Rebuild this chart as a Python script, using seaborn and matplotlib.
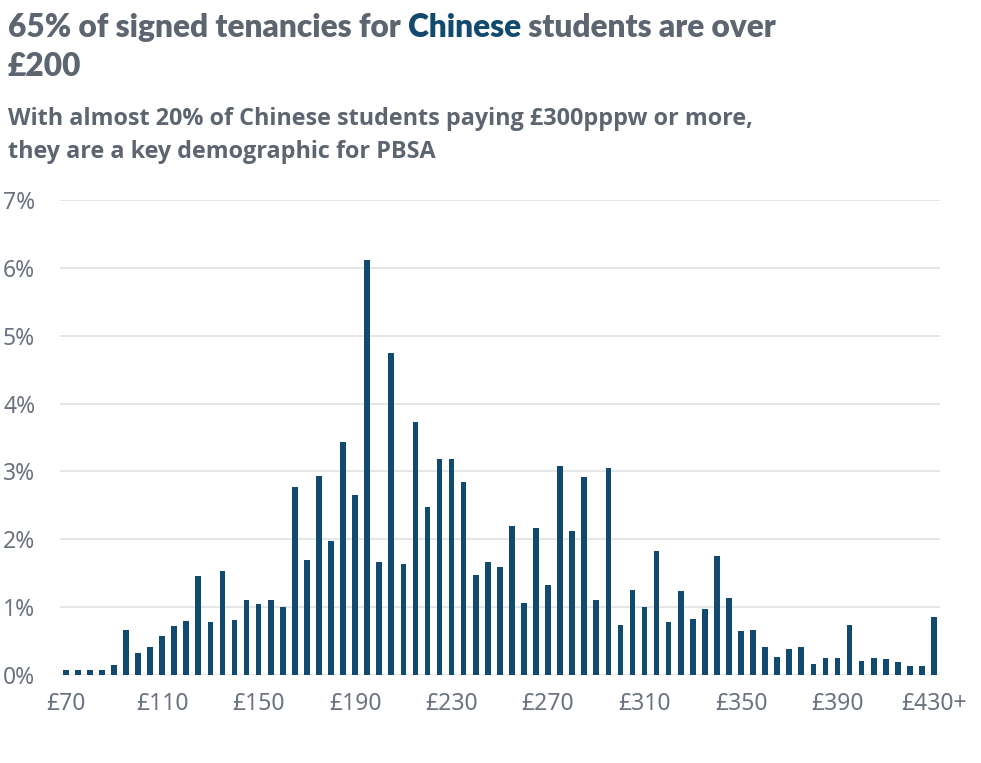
import matplotlib
matplotlib.use("Agg")
import matplotlib.pyplot as plt
import pandas as pd
import seaborn as sns

# weekly rent bands, £70 .. £430+ in £5 steps
bands = [f"£{v}" for v in range(70, 430, 5)] + ["£430+"]
share_pct = [
    0.08, 0.08, 0.08, 0.07, 0.15, 0.66, 0.33, 0.41, 0.57, 0.72,
    0.79, 1.46, 0.78, 1.53, 0.81, 1.11, 1.04, 1.11, 1.00, 2.77,
    1.70, 2.94, 1.98, 3.43, 2.66, 6.12, 1.67, 4.75, 1.64, 3.73,
    2.48, 3.19, 3.19, 2.85, 1.48, 1.67, 1.59, 2.19, 1.06, 2.17,
    1.33, 3.08, 2.12, 2.92, 1.11, 3.05, 0.73, 1.25, 1.00, 1.83,
    0.78, 1.24, 0.82, 0.98, 1.75, 1.13, 0.65, 0.67, 0.41, 0.27,
    0.38, 0.41, 0.16, 0.25, 0.25, 0.73, 0.21, 0.25, 0.23, 0.19,
    0.14, 0.14, 0.85,
]
y_ticks = [0, 1, 2, 3, 4, 5, 6, 7]

BAR = "#114a6e"
GREY = "#5d6571"
TICK_GREY = "#6b7280"
GRID = "#dfe1e5"

df = pd.DataFrame({"band": bands, "share": share_pct})

sns.set_theme(style="white")
plt.rcParams["font.family"] = ["Noto Sans", "DejaVu Sans"]

W, H = 981, 763
fig = plt.figure(figsize=(W / 100, H / 100), dpi=100)
ax = fig.add_axes([60 / W, (H - 675) / H, 880 / W, 475 / H])

sns.barplot(data=df, x="band", y="share", order=bands, color=BAR,
            saturation=1, width=0.47, linewidth=0, errorbar=None, ax=ax,
            zorder=3)

ax.set_xlim(-0.47, len(bands) - 0.5)
ax.set_ylim(0, 7)
ax.set_yticks(y_ticks)
ax.set_yticklabels([f"{t}%" for t in y_ticks])
ax.set_xticks(range(0, len(bands), 8))
ax.set_xticklabels(bands[::8])
ax.set_xlabel("")
ax.set_ylabel("")
ax.grid(True, axis="y", color=GRID, linewidth=1.2, zorder=0)
ax.grid(False, axis="x")
for s in ax.spines.values():
    s.set_visible(False)
ax.tick_params(axis="y", length=0, pad=41, labelsize=16.5, labelcolor=TICK_GREY)
ax.tick_params(axis="x", length=0, pad=12, labelsize=16.5, labelcolor=TICK_GREY)
for lbl in ax.get_yticklabels():
    lbl.set_horizontalalignment("left")

# title with one coloured word
title_font = dict(family=["Lato", "DejaVu Sans"], fontsize=22.8, fontweight="heavy")
pieces = [("65% of signed tenancies for ", GREY), ("Chinese", BAR),
          (" students are over", GREY)]
fig.canvas.draw()
renderer = fig.canvas.get_renderer()
x = 8
for txt, col in pieces:
    t = fig.text(x / W, 1 - 37 / H, txt, color=col, va="baseline", ha="left",
                 **title_font)
    bb = t.get_window_extent(renderer=renderer)
    x += bb.width
fig.text(8 / W, 1 - 76 / H, "£200", color=GREY, va="baseline", ha="left",
         **title_font)

sub_font = dict(family=["Open Sans", "DejaVu Sans"], fontsize=16.8,
                fontweight="bold", color=GREY, va="baseline", ha="left")
fig.text(8 / W, 1 - 125 / H,
         "With almost 20% of Chinese students paying £300pppw or more,",
         **sub_font)
fig.text(8 / W, 1 - 158 / H, "they are a key demographic for PBSA", **sub_font)

fig.savefig("out.png", dpi=100)
